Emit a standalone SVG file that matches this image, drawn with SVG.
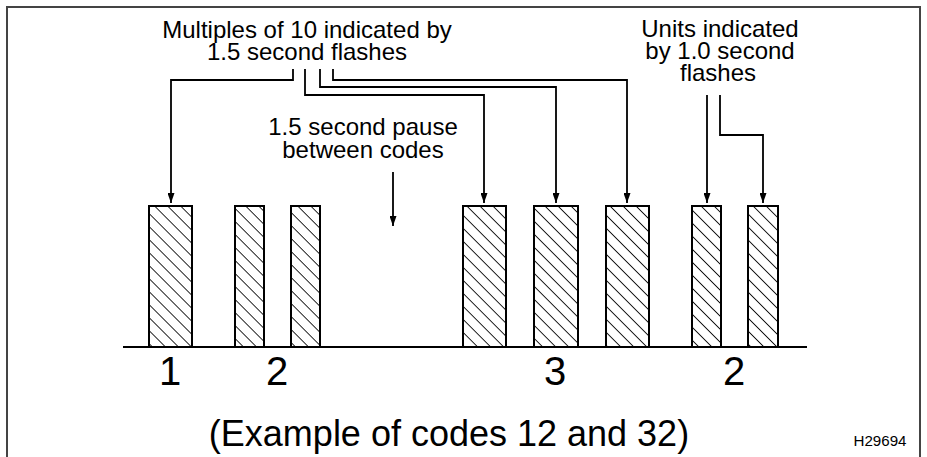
<svg xmlns="http://www.w3.org/2000/svg" width="927" height="457" viewBox="0 0 927 457">
<defs>
<style>
text{font-family:"Liberation Sans",Arial,sans-serif;fill:#000;text-anchor:middle}
.lbl{font-size:24px}
.dig{font-size:40px}
.cap{font-size:36px}
.bar{fill:url(#hatch);stroke:#000;stroke-width:2}
.con{fill:none;stroke:#000;stroke-width:1.8}
</style>
<pattern id="hatch" patternUnits="userSpaceOnUse" width="9.2" height="10" patternTransform="rotate(-45)">
<rect width="9.2" height="10" fill="#fff"/>
<line x1="0" y1="0" x2="0" y2="10" stroke="#000" stroke-width="1.7"/>
</pattern>
<marker id="ah" markerUnits="userSpaceOnUse" markerWidth="10" markerHeight="7" refX="10" refY="3.5" orient="auto" viewBox="0 0 10 7">
<path d="M0,0 L10,3.5 L0,7 Z" fill="#000"/>
</marker>
</defs>
<rect width="927" height="457" fill="#fff"/>
<path d="M7,457 V7 H920 V457" fill="none" stroke="#444" stroke-width="2"/>

<g id="label-multiples">
<text class="lbl" x="307" y="38">Multiples of 10 indicated by</text>
<text class="lbl" x="307" y="60">1.5 second flashes</text>
</g>
<g id="label-units">
<text class="lbl" x="720" y="37">Units indicated</text>
<text class="lbl" x="720" y="59">by 1.0 second</text>
<text class="lbl" x="718" y="81">flashes</text>
</g>
<g id="label-pause">
<text class="lbl" x="363" y="135">1.5 second pause</text>
<text class="lbl" x="363" y="158">between codes</text>
</g>

<g id="connectors">
<path class="con" d="M293,69 V80 H171 V203" marker-end="url(#ah)"/>
<path class="con" d="M305,69 V95 H484 V203" marker-end="url(#ah)"/>
<path class="con" d="M320,69 V87 H556 V203" marker-end="url(#ah)"/>
<path class="con" d="M333,69 V80 H627 V203" marker-end="url(#ah)"/>
<path class="con" d="M707,95 V203" marker-end="url(#ah)"/>
<path class="con" d="M720,95 V135 H763 V203" marker-end="url(#ah)"/>
<path class="con" d="M393,172 V226" marker-end="url(#ah)"/>
</g>

<g id="flashes">
<rect id="bar1" class="bar" x="149" y="206" width="43" height="141"/>
<rect id="bar2" class="bar" x="235" y="206" width="29" height="141"/>
<rect id="bar3" class="bar" x="291" y="206" width="29" height="141"/>
<rect id="bar4" class="bar" x="463" y="206" width="43" height="141"/>
<rect id="bar5" class="bar" x="534" y="206" width="44" height="141"/>
<rect id="bar6" class="bar" x="606" y="206" width="43" height="141"/>
<rect id="bar7" class="bar" x="692" y="206" width="29" height="141"/>
<rect id="bar8" class="bar" x="748" y="206" width="30" height="141"/>
</g>
<line id="baseline" x1="123" y1="347" x2="807" y2="347" stroke="#000" stroke-width="2.2"/>

<g id="digits">
<text class="dig" x="170" y="385">1</text>
<text class="dig" x="277" y="385">2</text>
<text class="dig" x="555" y="385">3</text>
<text class="dig" x="734" y="385">2</text>
</g>
<g id="caption">
<text class="cap" x="449" y="446">(Example of codes 12 and 32)</text>
</g>
<g id="ref">
<text x="880" y="446" style="font-size:14px" textLength="53" lengthAdjust="spacingAndGlyphs">H29694</text>
</g>
</svg>
